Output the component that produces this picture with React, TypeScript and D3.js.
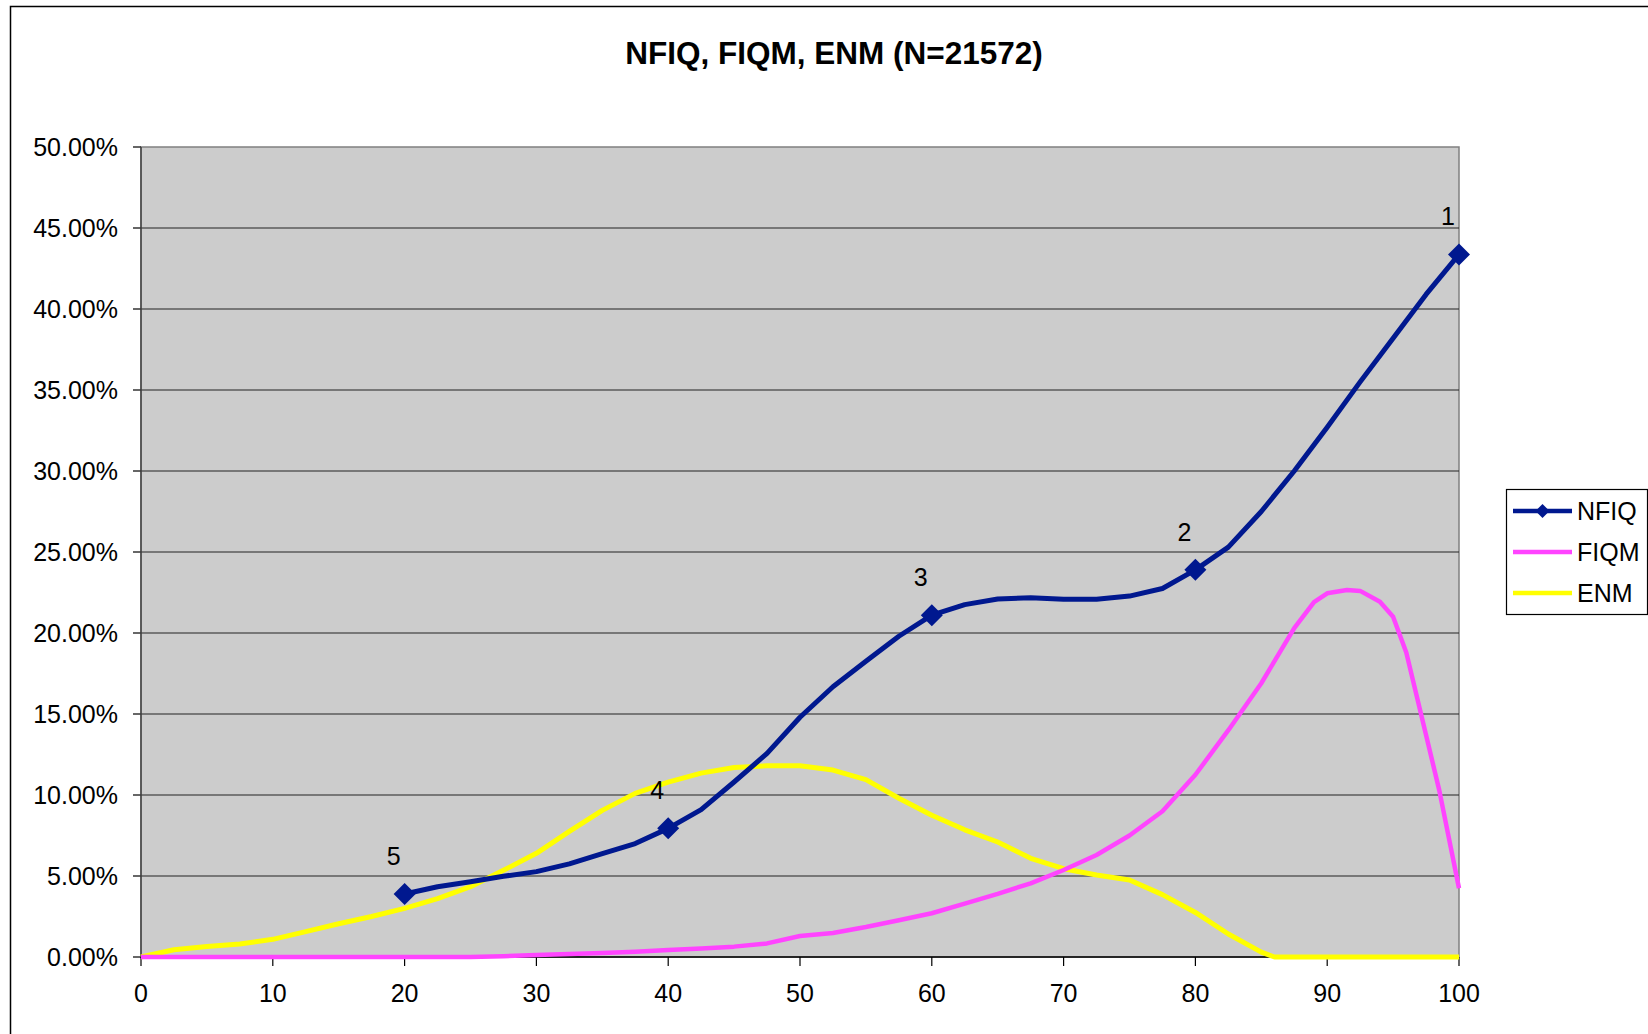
import React from "react";
import * as d3 from "d3";

// score buckets (x axis)
const scores = [
  0, 2.5, 5, 7.5, 10, 12.5, 15, 17.5, 20, 22.5, 25, 27.5, 30, 32.5, 35, 37.5,
  40, 42.5, 45, 47.5, 50, 52.5, 55, 57.5, 60, 62.5, 65, 67.5, 70, 72.5, 75,
  77.5, 80, 82.5, 85, 86, 90, 92.5, 95, 97.5, 100
];

// ENM distribution (%)
const enm = [
  0, 0.45, 0.65, 0.8, 1.09, 1.57, 2.05, 2.5, 3.0, 3.6, 4.34, 5.35, 6.4, 7.75,
  9.05, 10.1, 10.8, 11.35, 11.7, 11.8, 11.81, 11.54, 10.95, 9.8, 8.75, 7.85,
  7.1, 6.09, 5.45, 5.06, 4.75, 3.85, 2.75, 1.42, 0.3, 0, 0, 0, 0, 0, 0
];

// FIQM distribution (%), denser sampling around the peak
const fiqmX = [
  0, 10, 20, 25, 27.5, 30, 32.5, 35, 37.5, 40, 42.5, 45, 47.5, 50, 52.5, 55,
  57.5, 60, 62.5, 65, 67.5, 70, 72.5, 75, 77.5, 80, 82.5, 85, 87.5, 89, 90,
  91.5, 92.5, 94, 95, 96, 97.5, 98.5, 100
];
const fiqmY = [
  0, 0, 0, 0, 0.05, 0.12, 0.18, 0.25, 0.33, 0.43, 0.53, 0.64, 0.84, 1.3, 1.48,
  1.85, 2.27, 2.7, 3.3, 3.9, 4.55, 5.37, 6.3, 7.5, 9.0, 11.25, 14.0, 16.9,
  20.3, 21.9, 22.45, 22.65, 22.6, 21.93, 21.0, 18.8, 13.7, 10.3, 4.24
];

// NFIQ distribution (%)
const nfiqX = [
  20, 22.5, 25, 27.5, 30, 32.5, 35, 37.5, 40, 42.5, 45, 47.5, 50, 52.5, 55,
  57.5, 60, 62.5, 65, 67.5, 70, 72.5, 75, 77.5, 80, 82.5, 85, 87.5, 90, 92.5,
  95, 97.5, 100
];
const nfiqY = [
  3.89, 4.34, 4.65, 4.98, 5.27, 5.75, 6.38, 7.0, 7.94, 9.1, 10.8, 12.57, 14.8,
  16.68, 18.25, 19.8, 21.1, 21.75, 22.1, 22.18, 22.08, 22.08, 22.28, 22.75,
  23.9, 25.3, 27.5, 30.0, 32.7, 35.5, 38.2, 40.9, 43.37
];

// NFIQ classes marked on the curve
const nfiqLevelX = [20, 40, 60, 80, 100];
const nfiqLevels = ["5", "4", "3", "2", "1"];

const xTicks = [0, 10, 20, 30, 40, 50, 60, 70, 80, 90, 100];
const yTicks = [0, 5, 10, 15, 20, 25, 30, 35, 40, 45, 50];

const NAVY = "#00188f";
const MAGENTA = "#ff44ff";
const YELLOW = "#ffff00";
const FONT = "'Liberation Sans', Arial, sans-serif";

export default function App() {
  const W = 1648;
  const H = 1034;
  const plot = { left: 141, right: 1459, top: 147, bottom: 957 };

  const x = d3.scaleLinear().domain([0, 100]).range([plot.left, plot.right]);
  const y = d3.scaleLinear().domain([0, 50]).range([plot.bottom, plot.top]);
  const fmt = (v: number) => d3.format(".2f")(v) + "%";

  const line = d3
    .line<[number, number]>()
    .x((d) => x(d[0]))
    .y((d) => y(d[1]));

  const enmPts = scores.map((s, i) => [s, enm[i]] as [number, number]);
  const fiqmPts = fiqmX.map((s, i) => [s, fiqmY[i]] as [number, number]);
  const nfiqPts = nfiqX.map((s, i) => [s, nfiqY[i]] as [number, number]);

  const diamond = (cx: number, cy: number, r: number) =>
    `M${cx},${cy - r}L${cx + r},${cy}L${cx},${cy + r}L${cx - r},${cy}Z`;

  const legend = [
    { key: "NFIQ", color: NAVY, marker: true },
    { key: "FIQM", color: MAGENTA, marker: false },
    { key: "ENM", color: YELLOW, marker: false }
  ];
  const legendY = [511, 552, 593];

  return (
    <svg
      width={W}
      height={H}
      style={{ position: "absolute", left: 0, top: 0, background: "#fff" }}
      fontFamily={FONT}
    >
      {/* chart area border */}
      <rect x={10.5} y={6.5} width={1700} height={1100} fill="none" stroke="#000" strokeWidth={1.5} />

      <text x={834} y={64} textAnchor="middle" fontSize={31.5} fontWeight="bold">
        NFIQ, FIQM, ENM (N=21572)
      </text>

      {/* plot area */}
      <rect
        x={plot.left}
        y={plot.top}
        width={plot.right - plot.left}
        height={plot.bottom - plot.top}
        fill="#cccccc"
        stroke="#808080"
        strokeWidth={1.5}
      />

      {/* gridlines + y axis */}
      {yTicks.map((t) => (
        <g key={t}>
          {t > 0 && t < 50 && (
            <line x1={plot.left} x2={plot.right} y1={y(t)} y2={y(t)} stroke="#222" strokeWidth={1.2} />
          )}
          <line x1={plot.left - 8} x2={plot.left} y1={y(t)} y2={y(t)} stroke="#000" strokeWidth={1.2} />
          <text x={118} y={y(t)} dy="0.35em" textAnchor="end" fontSize={25}>
            {fmt(t)}
          </text>
        </g>
      ))}
      <line x1={plot.left} x2={plot.left} y1={plot.top} y2={plot.bottom} stroke="#444" strokeWidth={1.5} />

      {/* x axis */}
      <line x1={plot.left} x2={plot.right} y1={plot.bottom} y2={plot.bottom} stroke="#000" strokeWidth={1.5} />
      {xTicks.map((t) => (
        <g key={t}>
          <line x1={x(t)} x2={x(t)} y1={plot.bottom} y2={plot.bottom + 9} stroke="#000" strokeWidth={1.2} />
          <text x={x(t)} y={1002} textAnchor="middle" fontSize={25}>
            {t}
          </text>
        </g>
      ))}

      {/* series */}
      <path d={line(enmPts) || ""} fill="none" stroke={YELLOW} strokeWidth={5} strokeLinejoin="round" />
      <path d={line(fiqmPts) || ""} fill="none" stroke={MAGENTA} strokeWidth={4.5} strokeLinejoin="round" />
      <path d={line(nfiqPts) || ""} fill="none" stroke={NAVY} strokeWidth={5} strokeLinejoin="round" />

      {nfiqLevelX.map((lx, i) => {
        const v = nfiqY[nfiqX.indexOf(lx)];
        const cx = x(lx);
        const cy = y(v);
        return (
          <g key={lx}>
            <path d={diamond(cx, cy, 11)} fill={NAVY} />
            <text x={cx - 11} y={cy - 29} textAnchor="middle" fontSize={25}>
              {nfiqLevels[i]}
            </text>
          </g>
        );
      })}

      {/* legend */}
      <rect x={1506.5} y={489.5} width={141} height={125} fill="#fff" stroke="#000" strokeWidth={1.2} />
      {legend.map((d, i) => (
        <g key={d.key}>
          <line x1={1513} x2={1572} y1={legendY[i]} y2={legendY[i]} stroke={d.color} strokeWidth={4.5} />
          {d.marker && <path d={diamond(1542.5, legendY[i], 7)} fill={d.color} />}
          <text x={1577} y={legendY[i]} dy="0.35em" fontSize={25}>
            {d.key}
          </text>
        </g>
      ))}
    </svg>
  );
}
